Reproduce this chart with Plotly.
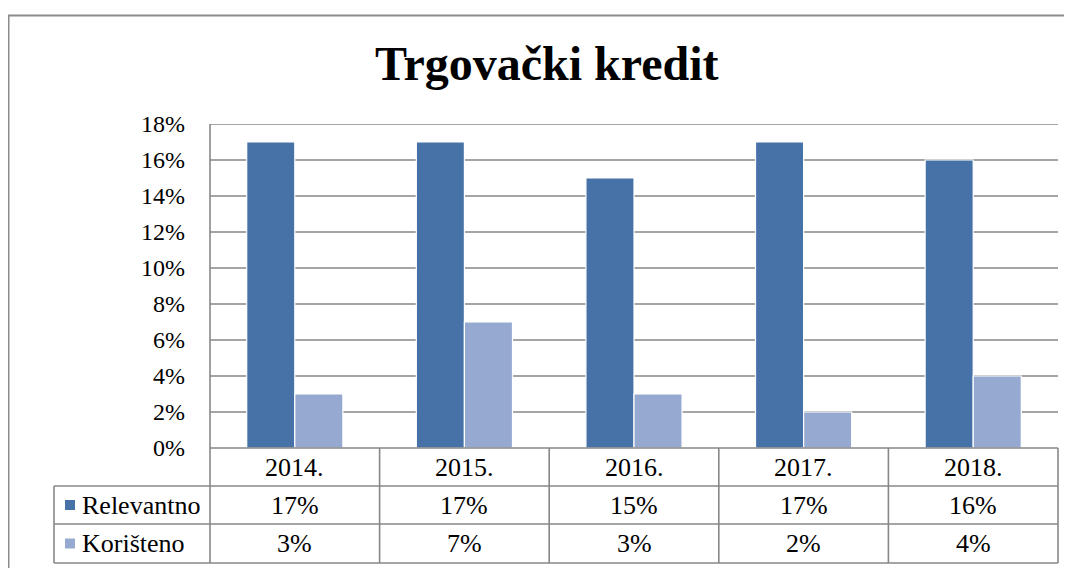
import plotly.graph_objects as go

# ---- data ----
categories = ["2014.", "2015.", "2016.", "2017.", "2018."]
series_names = ["Relevantno", "Korišteno"]
relevantno = [17, 17, 15, 17, 16]
koristeno = [3, 7, 3, 2, 4]
y_ticks = [0, 2, 4, 6, 8, 10, 12, 14, 16, 18]
title_text = "Trgovački kredit"

# ---- layout constants (pixels, in page coordinates) ----
W, H = 1072, 568
OFF = 8  # page body margin
PL, PR, PT, PB = 210, 1058, 124, 448
ROWS = [448, 486, 524, 563]
LEG_L = 54
COL_DARK = "#4672A8"
COL_LIGHT = "#96AAD1"
GRID = "#878787"
FONT = "Liberation Serif"


def px(x):
    return (x - OFF) / W


def py(y):
    return 1 - (y - OFF) / H


fig = go.Figure()
fig.add_trace(go.Bar(x=list(range(len(categories))), y=relevantno, name=series_names[0],
                     marker=dict(color=COL_DARK, line=dict(color="white", width=1.2))))
fig.add_trace(go.Bar(x=list(range(len(categories))), y=koristeno, name=series_names[1],
                     marker=dict(color=COL_LIGHT, line=dict(color="white", width=1.2))))

shapes = []
# outer chart border
shapes.append(dict(type="rect", xref="paper", yref="paper", x0=px(8.5), x1=px(1100),
                   y0=py(15.5), y1=py(600), line=dict(color="#8c8c8c", width=2), layer="below"))
# gridlines
for t in y_ticks[1:]:
    shapes.append(dict(type="line", xref="paper", yref="y", x0=px(PL), x1=px(PR), y0=t, y1=t,
                       line=dict(color=GRID, width=1.5), layer="below"))
# table horizontal lines
shapes.append(dict(type="line", xref="paper", yref="paper", x0=px(PL), x1=px(PR),
                   y0=py(ROWS[0]), y1=py(ROWS[0]), line=dict(color=GRID, width=1.6)))
for r in ROWS[1:]:
    shapes.append(dict(type="line", xref="paper", yref="paper", x0=px(LEG_L), x1=px(PR),
                       y0=py(r), y1=py(r), line=dict(color=GRID, width=1.6)))
# vertical lines
shapes.append(dict(type="line", xref="paper", yref="paper", x0=px(PL), x1=px(PL),
                   y0=py(PT), y1=py(ROWS[-1]), line=dict(color=GRID, width=1.6)))
shapes.append(dict(type="line", xref="paper", yref="paper", x0=px(LEG_L), x1=px(LEG_L),
                   y0=py(ROWS[1]), y1=py(ROWS[-1]), line=dict(color=GRID, width=1.6)))
shapes.append(dict(type="line", xref="paper", yref="paper", x0=px(PR), x1=px(PR),
                   y0=py(ROWS[0]), y1=py(ROWS[-1]), line=dict(color=GRID, width=1.6)))
for i in range(len(categories) - 1):
    shapes.append(dict(type="line", xref="x", yref="paper", x0=i + 0.5, x1=i + 0.5,
                       y0=py(ROWS[0]), y1=py(ROWS[-1]), line=dict(color=GRID, width=1.6)))
# legend keys
for k, (col, r0, r1) in enumerate([(COL_DARK, ROWS[1], ROWS[2]), (COL_LIGHT, ROWS[2], ROWS[3])]):
    c = (r0 + r1) / 2
    shapes.append(dict(type="rect", xref="paper", yref="paper", x0=px(65), x1=px(75),
                       y0=py(c - 5), y1=py(c + 5), fillcolor=col, line=dict(width=0)))

annotations = []
rows_text = [categories, [f"{v}%" for v in relevantno], [f"{v}%" for v in koristeno]]
for ri, texts in enumerate(rows_text):
    yc = (ROWS[ri] + ROWS[ri + 1]) / 2
    for i, t in enumerate(texts):
        annotations.append(dict(x=i, y=py(yc), xref="x", yref="paper", text=t, showarrow=False,
                                xanchor="center", yanchor="middle",
                                font=dict(family=FONT, size=26, color="black")))
for k, name in enumerate(series_names):
    yc = (ROWS[k + 1] + ROWS[k + 2]) / 2
    annotations.append(dict(x=px(80), y=py(yc), xref="paper", yref="paper", text=name,
                            showarrow=False, xanchor="left", yanchor="middle",
                            font=dict(family=FONT, size=26, color="black")))
annotations.append(dict(x=px(547), y=py(64), xref="paper", yref="paper", text=f"<b>{title_text}</b>",
                        showarrow=False, xanchor="center", yanchor="middle",
                        font=dict(family=FONT, size=48, color="black")))

fig.update_layout(
    width=W, height=H,
    margin=dict(l=0, r=0, t=0, b=0, autoexpand=False),
    paper_bgcolor="white", plot_bgcolor="white",
    showlegend=False,
    barmode="group", bargap=0.433, bargroupgap=0.0,
    shapes=shapes, annotations=annotations,
    xaxis=dict(domain=[px(PL), px(PR)], range=[-0.5, len(categories) - 0.5], automargin=False,
               showticklabels=False, showgrid=False, zeroline=False, showline=False, ticks=""),
    yaxis=dict(domain=[py(PB), py(PT)], range=[0, 18], tickvals=y_ticks, automargin=False,
               ticktext=[f"{t}%" for t in y_ticks], showgrid=False, zeroline=False,
               showline=False, ticks="", ticklabelstandoff=24,
               tickfont=dict(family=FONT, size=24, color="black")),
)

fig.write_html("out.html")
